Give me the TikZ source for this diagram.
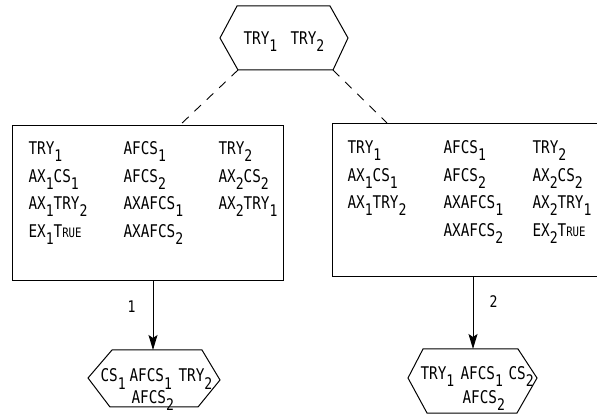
\documentclass[tikz,border=0pt]{standalone}
\usepackage{fontspec}
\usetikzlibrary{arrows.meta}
\newfontfamily\ibm[FakeStretch=0.82]{DejaVu Sans Mono}
% lowered index digit
\newcommand\lo[1]{\raisebox{-7pt}{\fontsize{16}{16}\selectfont #1}}
% small-caps style "True"
\newcommand\tru{T{\fontsize{13}{13}\selectfont RUE}}

\begin{document}
\begin{tikzpicture}[x=1pt,y=-1pt,line width=1pt,
  txt/.style={anchor=base west,inner sep=0pt,font={\ibm\fontsize{17.5}{20}\selectfont}},
  boxnode/.style={draw,anchor=north west,inner sep=0pt},
  dashlink/.style={line width=0.9pt,dash pattern=on 9pt off 8pt},
  arr/.style={-{Stealth[length=15pt,width=9pt,inset=3pt]}}]
\useasboundingbox (0,0) rectangle (597,419);
\clip (0,0) rectangle (597,419);
\fill[white] (0,0) rectangle (597,419);

% ---- top hexagon ----
\coordinate (t-l)  at (220,38);
\coordinate (t-nw) at (237,6);
\coordinate (t-ne) at (330,6);
\coordinate (t-r)  at (348,38);
\coordinate (t-se) at (333,70);
\coordinate (t-sw) at (238,70);
\draw (t-l) -- (t-nw) -- (t-ne) -- (t-r) -- (t-se) -- (t-sw) -- cycle;
\node[txt] (t1) at (243,45) {TRY\lo{1}};
\node[txt] (t2) at (290,45) {TRY\lo{2}};

% ---- left box ----
\node[boxnode,minimum width=271pt,minimum height=155pt] (lbox) at (12,125) {};
\node[txt] (l11) at (28,155) {TRY\lo{1}};
\node[txt] (l21) at (28,183) {AX\lo{1}CS\lo{1}};
\node[txt] (l31) at (28,210) {AX\lo{1}TRY\lo{2}};
\node[txt] (l41) at (28,238) {EX\lo{1}\tru};
\node[txt] (l12) at (123,155) {AFCS\lo{1}};
\node[txt] (l22) at (123,183) {AFCS\lo{2}};
\node[txt] (l32) at (123,210) {AXAFCS\lo{1}};
\node[txt] (l42) at (123,238) {AXAFCS\lo{2}};
\node[txt] (l13) at (218,155) {TRY\lo{2}};
\node[txt] (l23) at (218,183) {AX\lo{2}CS\lo{2}};
\node[txt] (l33) at (218,210) {AX\lo{2}TRY\lo{1}};

% ---- right box (runs past the right edge) ----
\node[boxnode,minimum width=280pt,minimum height=153pt] (rbox) at (332,123) {};
\node[txt] (r11) at (347,154) {TRY\lo{1}};
\node[txt] (r21) at (347,182) {AX\lo{1}CS\lo{1}};
\node[txt] (r31) at (347,209) {AX\lo{1}TRY\lo{2}};
\node[txt] (r12) at (443,154) {AFCS\lo{1}};
\node[txt] (r22) at (443,182) {AFCS\lo{2}};
\node[txt] (r32) at (443,209) {AXAFCS\lo{1}};
\node[txt] (r42) at (443,237) {AXAFCS\lo{2}};
\node[txt] (r13) at (532,154) {TRY\lo{2}};
\node[txt] (r23) at (532,182) {AX\lo{2}CS\lo{2}};
\node[txt] (r33) at (532,209) {AX\lo{2}TRY\lo{1}};
\node[txt] (r43) at (532,237) {EX\lo{2}\tru};

% ---- dashed links ----
\draw[dashlink] (t-sw) -- (180,0 |- lbox.north);
\draw[dashlink] (t-se) -- (387,0 |- rbox.north);

% ---- bottom-left hexagon ----
\coordinate (a-l)  at (88,378);
\coordinate (a-nw) at (112,350);
\coordinate (a-ne) at (202,350);
\coordinate (a-r)  at (220,380);
\coordinate (a-se) at (198,407);
\coordinate (a-sw) at (110,407);
\draw (a-l) -- (a-nw) -- (a-ne) -- (a-r) -- (a-se) -- (a-sw) -- cycle;
\node[txt] (a1) at (100,382) {CS\lo{1}};
\node[txt] (a2) at (129,382) {AFCS\lo{1}};
\node[txt] (a3) at (178,382) {TRY\lo{2}};
\node[txt] (a4) at (131,403) {AFCS\lo{2}};

% ---- bottom-right hexagon ----
\coordinate (b-l)  at (408,378);
\coordinate (b-nw) at (423,349);
\coordinate (b-ne) at (518,349);
\coordinate (b-r)  at (537,378);
\coordinate (b-se) at (517,413);
\coordinate (b-sw) at (427,413);
\draw (b-l) -- (b-nw) -- (b-ne) -- (b-r) -- (b-se) -- (b-sw) -- cycle;
\node[txt] (b1) at (420,380) {TRY\lo{1}};
\node[txt] (b2) at (460,380) {AFCS\lo{1}};
\node[txt] (b3) at (508,380) {CS\lo{2}};
\node[txt] (b4) at (462,403) {AFCS\lo{2}};

% ---- arrows ----
\draw[arr] (153,0 |- lbox.south) -- (153,0 |- a-nw);
\node[txt,font={\ibm\fontsize{16}{16}\selectfont}] (n1) at (127,313) {1};
\draw[arr] (473,0 |- rbox.south) -- (473,0 |- b-nw);
\node[txt,font={\ibm\fontsize{16}{16}\selectfont}] (n2) at (489,308) {2};
\end{tikzpicture}
\end{document}
